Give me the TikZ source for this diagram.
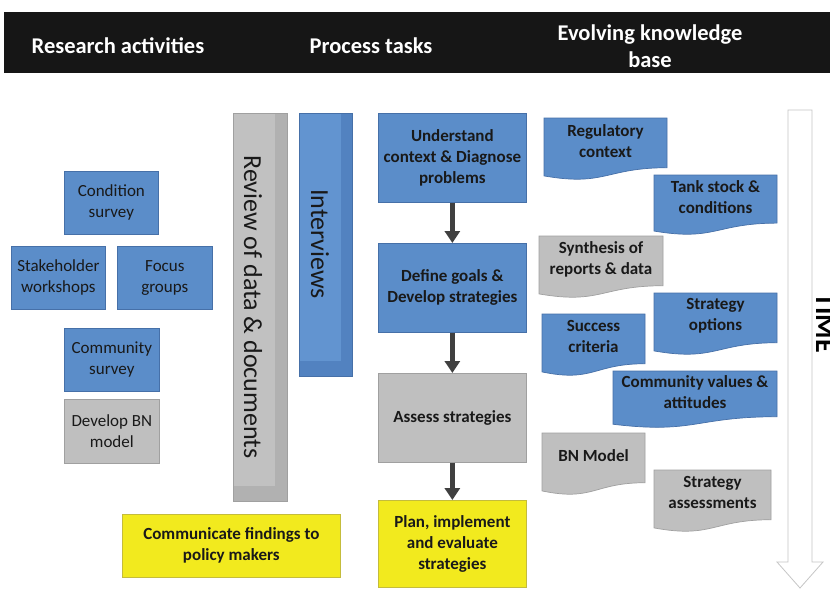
\documentclass[tikz,border=0pt]{standalone}
\usepackage{fontspec}
\setmainfont{Carlito}
\usetikzlibrary{arrows.meta}
\definecolor{bF}{RGB}{91,141,201}
\definecolor{bD}{RGB}{70,112,168}
\definecolor{bO}{RGB}{82,130,192}
\definecolor{bL}{RGB}{98,148,208}
\definecolor{gF}{RGB}{191,191,191}
\definecolor{gD}{RGB}{160,160,160}
\definecolor{gO}{RGB}{177,177,177}
\definecolor{gL}{RGB}{193,193,193}
\definecolor{yF}{RGB}{242,234,30}
\definecolor{yD}{RGB}{196,188,60}
\definecolor{hdr}{RGB}{22,22,22}
\definecolor{txt}{RGB}{25,25,25}
\definecolor{arr}{RGB}{64,64,64}
\newcommand\docbox[8]{%
  \filldraw[fill=#5, draw=#6, line width=0.7pt] (#1,#2) -- ({#1+#3},#2) -- ({#1+#3},{#2+0.802*#4})
    .. controls ({#1+0.5*#3},{#2+0.802*#4}) and ({#1+0.5*#3},{#2+1.107*#4}) .. (#1,{#2+0.934*#4}) -- cycle;
  \node[doctext] (#7) at ({#1+0.5*#3},{#2+0.37*#4}) {#8};
}
\begin{document}
\begin{tikzpicture}[x=1pt,y=-1pt,
  hdrtext/.style={text=white, font=\fontsize{22.5}{27}\selectfont\bfseries, align=center},
  rbox/.style={rectangle, anchor=north west, inner sep=2pt, align=center, line width=0.7pt, text=txt},
  bluebox/.style={rbox, fill=bF, draw=bD},
  graybox/.style={rbox, fill=gF, draw=gD},
  yelbox/.style={rbox, fill=yF, draw=yD},
  plain/.style={font=\fontsize{17}{21}\selectfont},
  bold/.style={font=\fontsize{17}{21}\selectfont\bfseries},
  doctext/.style={text=txt, align=center, font=\fontsize{17}{21}\selectfont\bfseries},
  flow/.style={draw=arr, line width=4.5pt, -{Triangle[width=15pt,length=12pt]}, shorten >=0pt}
]
\useasboundingbox (0,0) rectangle (830,589);
\fill[white] (0,0) rectangle (830,589);
% header
\fill[hdr] (4,12) rectangle (830,73);
\node[hdrtext] (h1) at (118,46) {Research activities};
\node[hdrtext] (h2) at (371,46) {Process tasks};
\node[hdrtext] (h3) at (650,46.5) {Evolving knowledge\\base};
% research activities
\node[bluebox, plain, minimum width=94, minimum height=63] (cond) at (64,171) {Condition\\survey};
\node[bluebox, plain, minimum width=94, minimum height=63] (stake) at (11,246) {Stakeholder\\workshops};
\node[bluebox, plain, minimum width=95, minimum height=63] (focus) at (117,246) {Focus\\groups};
\node[bluebox, plain, minimum width=95, minimum height=63] (comm) at (64,328) {Community\\survey};
\node[graybox, plain, minimum width=95, minimum height=64] (bn) at (64,399) {Develop BN\\model};
\node[graybox, fill=gO, minimum width=54, minimum height=388] (review) at (233,113) {};
\fill[gL] (review.north west) ++(0.5,0.5) rectangle (275,486);
\node[rotate=-90, text=txt, font=\fontsize{26}{30}\selectfont] (reviewt) at (253,307) {Review of data \& documents};
\node[bluebox, fill=bO, minimum width=53, minimum height=263] (interv) at (299,113) {};
\fill[bL] (interv.north west) ++(0.5,0.5) rectangle (341,361);
\node[rotate=-90, text=txt, font=\fontsize{26}{30}\selectfont] (intervt) at (320,244) {Interviews};
\node[yelbox, bold, minimum width=218, minimum height=63] (commf) at (122,514) {Communicate findings to\\policy makers};
% process tasks
\node[bluebox, bold, minimum width=148, minimum height=89] (und) at (378,113) {Understand\\context \& Diagnose\\problems};
\node[bluebox, bold, minimum width=148, minimum height=89] (def) at (378,243) {Define goals \&\\Develop strategies};
\node[graybox, bold, minimum width=148, minimum height=89] (ass) at (378,373) {Assess strategies};
\node[yelbox, bold, minimum width=148, minimum height=87] (plan) at (378,500) {Plan, implement\\and evaluate\\strategies};
\draw[flow] (und.south) -- (def.north);
\draw[flow] (def.south) -- (ass.north);
\draw[flow] (ass.south) -- (plan.north);
% evolving knowledge base
\docbox{544}{118}{123}{62}{bF}{bD}{reg}{Regulatory\\context}
\docbox{654}{175}{123}{60}{bF}{bD}{tank}{Tank stock \&\\conditions}
\docbox{539}{236}{124}{62}{gF}{gD}{syn}{Synthesis of\\reports \& data}
\docbox{654}{293}{123}{62}{bF}{bD}{stopt}{Strategy\\options}
\docbox{542}{314}{103}{62}{bF}{bD}{succ}{Success\\criteria}
\docbox{613}{371}{164}{57}{bF}{bD}{cval}{Community values \&\\attitudes}
\docbox{542}{433}{103}{62}{gF}{gD}{bnm}{BN Model}
\docbox{654}{470}{117}{62}{gF}{gD}{sass}{Strategy\\assessments}
% time arrow
\filldraw[fill=white, draw=gray!45, line width=0.8pt] (788,110) -- (812,110) -- (812,562) -- (823,562) -- (800,588) -- (777,562) -- (788,562) -- cycle;
\node[rotate=-90, anchor=south, inner sep=0pt, font=\fontsize{28}{30}\selectfont\bfseries] (time) at (816,323) {TIME};
\end{tikzpicture}
\end{document}
